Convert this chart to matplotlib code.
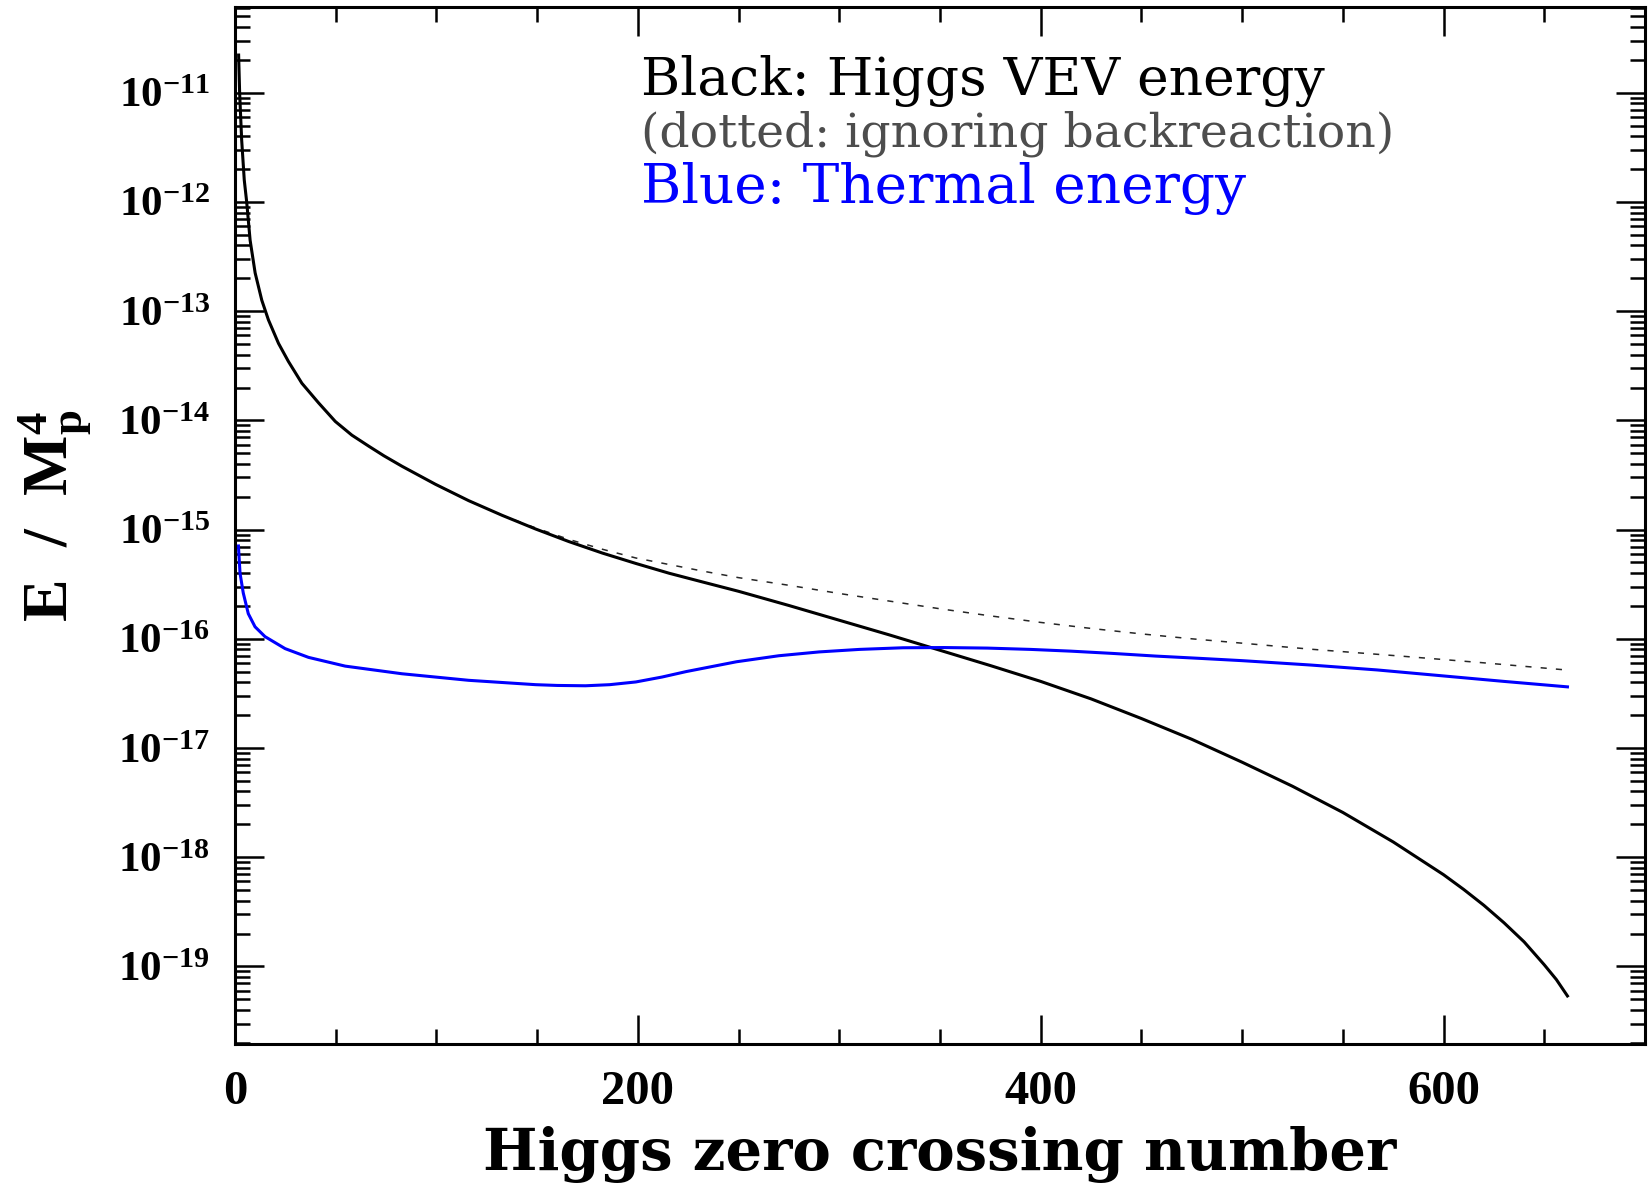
import numpy as np
import matplotlib
matplotlib.use('Agg')
import matplotlib.pyplot as plt
from matplotlib.ticker import FixedLocator, LogLocator, MultipleLocator, FuncFormatter, NullFormatter

# Higgs VEV energy vs zero crossing number (log10 of E / Mp^4)
x_vev = [1.8, 2.3, 3.3, 4.6, 5.8, 7.5, 10.0, 13.3, 16.6, 21.6, 26.5, 33.2,
         41.5, 49.8, 58.0, 66.3, 74.0, 82.9, 99.5, 116, 132.7, 149.3, 165.8,
         182.4, 199, 215.6, 232.2, 250, 275, 300, 325, 350, 375, 400, 425,
         450, 475, 500, 525, 550, 575, 600, 610, 620, 630, 640, 650, 656,
         661.5]
log_vev = [-10.655, -11.0, -11.43, -11.80, -12.0, -12.35, -12.65, -12.90,
           -13.08, -13.295, -13.46, -13.66, -13.84, -14.01, -14.135, -14.235,
           -14.325, -14.42, -14.585, -14.735, -14.87, -14.995, -15.11, -15.215,
           -15.31, -15.40, -15.48, -15.565, -15.695, -15.83, -15.965, -16.105,
           -16.245, -16.39, -16.55, -16.73, -16.92, -17.13, -17.35, -17.59,
           -17.86, -18.16, -18.295, -18.44, -18.60, -18.775, -18.985, -19.12,
           -19.27]

# same, ignoring backreaction
x_noback = [1.8, 2.3, 3.3, 4.6, 5.8, 7.5, 10.0, 13.3, 16.6, 21.6, 26.5, 33.2,
            41.5, 49.8, 58.0, 66.3, 74.0, 82.9, 99.5, 116, 132.7, 149.3,
            165.8, 182.4, 199, 215.6, 232.2, 250, 275, 300, 325, 350, 375,
            400, 425, 450, 475, 500, 534, 580, 620, 662]
log_noback = [-10.655, -11.0, -11.43, -11.80, -12.0, -12.35, -12.65, -12.90,
              -13.08, -13.295, -13.46, -13.66, -13.84, -14.01, -14.135,
              -14.235, -14.325, -14.42, -14.585, -14.735, -14.87, -14.985,
              -15.09, -15.18, -15.26, -15.32, -15.38, -15.44, -15.51, -15.585,
              -15.655, -15.725, -15.79, -15.85, -15.905, -15.955, -16.0,
              -16.04, -16.095, -16.16, -16.22, -16.287]

# thermal energy
x_thermal = [1.7, 2.5, 4.1, 6.6, 9.95, 14.9, 24.9, 36.5, 54.7, 82.9, 116,
             149.3, 160, 174, 186, 199, 212, 224, 249, 270, 290, 310, 331.6,
             352, 373.5, 395, 415, 436, 457, 480, 500, 534, 567, 600, 630,
             661.5]
log_thermal = [-15.15, -15.40, -15.58, -15.77, -15.89, -15.98, -16.09, -16.17,
               -16.25, -16.32, -16.38, -16.42, -16.427, -16.43, -16.42,
               -16.395, -16.35, -16.30, -16.21, -16.155, -16.12, -16.097,
               -16.082, -16.08, -16.085, -16.097, -16.113, -16.134, -16.158,
               -16.18, -16.20, -16.24, -16.285, -16.34, -16.39, -16.44]

y_decades = np.arange(-19, -10)

plt.rcParams['font.family'] = 'Liberation Serif'
plt.rcParams['font.weight'] = 'bold'
plt.rcParams['mathtext.fontset'] = 'custom'
plt.rcParams['mathtext.rm'] = 'Liberation Serif:bold'
plt.rcParams['mathtext.it'] = 'Liberation Serif:italic:bold'
plt.rcParams['mathtext.bf'] = 'Liberation Serif:bold'

fig = plt.figure(figsize=(16.48, 11.86), dpi=100)
ax = fig.add_axes([235 / 1648, 1 - 1044 / 1186, 1410 / 1648, 1037 / 1186])

ax.plot(x_noback, 10 ** np.array(log_noback), color='0.15', lw=1.1, ls=(0, (4, 6)))
ax.plot(x_vev, 10 ** np.array(log_vev), color='black', lw=2.2)
ax.plot(x_thermal, 10 ** np.array(log_thermal), color='#0000ff', lw=2.2)

ax.set_yscale('log')
ax.set_xlim(0, 700)
ax.set_ylim(10 ** -19.71, 10 ** -10.215)

ax.xaxis.set_major_locator(MultipleLocator(200))
ax.xaxis.set_minor_locator(MultipleLocator(50))
ax.yaxis.set_major_locator(FixedLocator(10.0 ** y_decades))
ax.yaxis.set_minor_locator(LogLocator(base=10, subs=np.arange(2, 10), numticks=300))
ax.yaxis.set_major_formatter(FuncFormatter(lambda v, p: r'$10^{%d}$' % round(np.log10(v))))
ax.yaxis.set_minor_formatter(NullFormatter())

ax.tick_params(which='both', direction='in', top=True, right=True, width=1.8)
ax.tick_params(which='major', length=21)
ax.tick_params(which='minor', length=10.5)
ax.tick_params(axis='y', which='major', pad=18, labelsize=31)
ax.tick_params(axis='x', which='major', pad=19, labelsize=35)
for sp in ax.spines.values():
    sp.set_linewidth(2.2)

ax.set_xlabel('Higgs zero crossing number', fontfamily='DejaVu Serif',
              fontweight='bold', fontsize=41.5, va='baseline')
ax.xaxis.set_label_coords(0.5, -0.1215)
ax.set_ylabel(r'$\mathbf{E\ \ /\ \ M_p^4}$', fontsize=46, va='center')
ax.yaxis.set_label_coords(-0.128, 0.509)

ax.text(0.288, 0.915, 'Black: Higgs VEV energy', transform=ax.transAxes,
        fontfamily='DejaVu Serif', fontweight='normal', fontsize=38.5,
        color='black', va='baseline')
ax.text(0.288, 0.865, '(dotted: ignoring backreaction)', transform=ax.transAxes,
        fontfamily='DejaVu Serif', fontweight='normal', fontsize=34,
        color='0.3', va='baseline')
ax.text(0.288, 0.811, 'Blue: Thermal energy', transform=ax.transAxes,
        fontfamily='DejaVu Serif', fontweight='normal', fontsize=39.5,
        color='#0000ff', va='baseline')

fig.savefig('out.png', dpi=100)
